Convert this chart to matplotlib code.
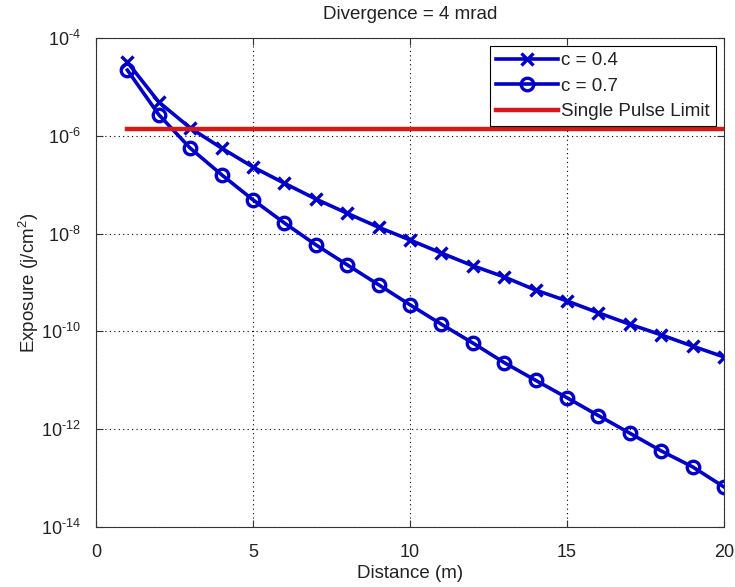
import numpy as np
import matplotlib
matplotlib.use("Agg")
import matplotlib.pyplot as plt
from matplotlib.ticker import FixedLocator, FuncFormatter, NullLocator

plt.rcParams['font.family'] = ['Liberation Sans', 'DejaVu Sans']
plt.rcParams['mathtext.fontset'] = 'custom'
plt.rcParams['mathtext.rm'] = 'Liberation Sans'
plt.rcParams['mathtext.it'] = 'Liberation Sans'
plt.rcParams['mathtext.default'] = 'regular'

distance = np.arange(1, 21)
c04 = [3.2e-5, 4.9e-6, 1.45e-6, 5.6e-7, 2.3e-7, 1.07e-7, 5.1e-8, 2.6e-8, 1.35e-8, 7.4e-9,
       4.0e-9, 2.2e-9, 1.3e-9, 7.0e-10, 4.2e-10, 2.4e-10, 1.4e-10, 8.5e-11, 5.0e-11, 3.0e-11]
c07 = [2.2e-5, 2.7e-6, 5.6e-7, 1.6e-7, 4.9e-8, 1.65e-8, 5.9e-9, 2.3e-9, 9.0e-10, 3.5e-10,
       1.4e-10, 5.8e-11, 2.3e-11, 1.0e-11, 4.4e-12, 1.9e-12, 8.3e-13, 3.6e-13, 1.7e-13, 6.6e-14]
limit_x = [1, 20]
limit_y = [1.38e-6, 1.38e-6]

fig = plt.figure(figsize=(7.35, 5.87), dpi=100)
ax = fig.add_axes([0.1306, 0.1022, 0.8544, 0.8331])

blue = '#0000c8'
ax.plot(distance, c04, color=blue, lw=2.6, marker='x', ms=8, mew=2.4, label='c = 0.4')
ax.plot(distance, c07, color=blue, lw=2.6, marker='o', ms=9, mew=2.4,
        markerfacecolor='none', label='c = 0.7')
ax.plot(limit_x, limit_y, color='#d81818', lw=3.2, label='Single Pulse Limit')

ax.set_yscale('log')
ax.set_xlim(0, 20)
ax.set_ylim(1e-14, 1e-4)
ax.xaxis.set_major_locator(FixedLocator([0, 5, 10, 15, 20]))
ax.yaxis.set_major_locator(FixedLocator([1e-14, 1e-12, 1e-10, 1e-8, 1e-6, 1e-4]))
ax.yaxis.set_minor_locator(NullLocator())
ax.yaxis.set_major_formatter(FuncFormatter(lambda v, p: r'$10^{\text{-}%d}$' % abs(round(np.log10(v)))))

ax.tick_params(direction='in', top=True, right=True, labelsize=13, length=5,
               color='#333333', labelcolor='#222222')
ax.tick_params(axis='x', pad=12)
ax.tick_params(axis='y', pad=11)
ax.grid(True, color='black', linestyle=(0, (1, 3)), linewidth=0.8)
for s in ax.spines.values():
    s.set_color('#333333')

ax.set_title('Divergence = 4 mrad', fontsize=13.5, pad=14, color='#222222')
ax.set_xlabel('Distance (m)', fontsize=13.5, color='#222222')
ax.set_ylabel(r'Exposure (j/cm$^2$)', fontsize=13.5, color='#222222')
ax.xaxis.set_label_coords(0.5, -0.078)
ax.yaxis.set_label_coords(-0.087, 0.5)

leg = ax.legend(loc='upper right', fontsize=13.5, frameon=True, fancybox=False,
                edgecolor='black', framealpha=1, handlelength=3.3, borderpad=0.3,
                labelspacing=0.45, handletextpad=0.2, borderaxespad=0.45)
leg.get_frame().set_linewidth(0.8)
for t in leg.get_texts():
    t.set_color('#222222')

fig.savefig('out.png', dpi=100)
